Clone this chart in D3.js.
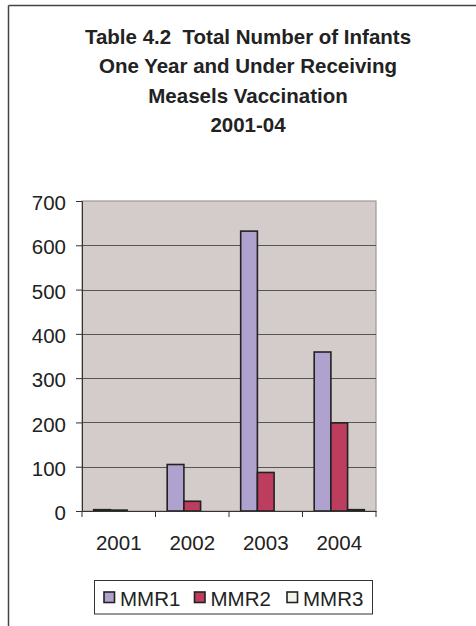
<!DOCTYPE html>
<html><head><meta charset="utf-8">
<script src="https://cdn.jsdelivr.net/npm/d3@7"></script>
<style>body{margin:0;background:#fff}svg{display:block}text{white-space:pre}</style>
</head><body>
<script>
const years = ["2001","2002","2003","2004"];
const seriesNames = ["MMR1","MMR2","MMR3"];
const mmr1 = [3,105,632,359];
const mmr2 = [2,22,87,199];
const mmr3 = [0,0,0,3];
const yTicks = [0,100,200,300,400,500,600,700];
const titleLines = ["Table 4.2  Total Number of Infants","One Year and Under Receiving","Measels Vaccination","2001-04"];
const colors = ["#B0A2CE","#BC3D5E","#F2F5E9"];

const W=476,H=626;
const svg=d3.select("body").append("svg").attr("width",W).attr("height",H);
const font="Liberation Sans, Arial, sans-serif";
const fs=20.5;

// chart border (top & left)
svg.append("line").attr("x1",8.5).attr("x2",W).attr("y1",5.5).attr("y2",5.5).attr("stroke","#444").attr("stroke-width",1.5);
svg.append("line").attr("x1",8.5).attr("x2",8.5).attr("y1",5.5).attr("y2",H).attr("stroke","#444").attr("stroke-width",1.5);

// title
svg.append("g").selectAll("text").data(titleLines).join("text")
  .attr("x",248).attr("y",(d,i)=>44+i*29.3).attr("text-anchor","middle")
  .attr("font-family",font).attr("font-weight","bold").attr("font-size",20.5).attr("fill","#222")
  .text(d=>d);

const L=82,R=376,T=201,B=511;
const x=d3.scaleBand().domain(years).range([L,R]);
const y=d3.scaleLinear().domain([0,700]).range([B,T]);
const xs=d3.scaleBand().domain(seriesNames).range([0,x.bandwidth()]).paddingInner(0).paddingOuter(0.7);

svg.append("rect").attr("x",L).attr("y",T).attr("width",R-L).attr("height",B-T).attr("fill","#D4CCCA").attr("stroke","#A09898").attr("stroke-width",1.2);

// gridlines
svg.append("g").selectAll("line").data(yTicks.filter(v=>v>0&&v<700)).join("line")
  .attr("x1",L).attr("x2",R).attr("y1",d=>Math.round(y(d))+0.5).attr("y2",d=>Math.round(y(d))+0.5)
  .attr("stroke","#555").attr("stroke-width",1);

const series=[mmr1,mmr2,mmr3];
const g=svg.append("g");
years.forEach((yr,i)=>{
  series.forEach((s,j)=>{
    g.append("rect").attr("x",x(yr)+xs(seriesNames[j])).attr("y",y(s[i]))
      .attr("width",xs.bandwidth()).attr("height",Math.max(0,B-y(s[i])))
      .attr("fill",colors[j]).attr("stroke","#222").attr("stroke-width",1.6);
  });
});

// axes
const ya=svg.append("g").attr("transform",`translate(${L},0)`)
  .call(d3.axisLeft(y).tickValues(yTicks).tickSize(6).tickPadding(10));
ya.select(".domain").attr("stroke","#333");
ya.selectAll(".tick line").attr("stroke","#333");
ya.selectAll("text").attr("font-family",font).attr("font-size",fs).attr("fill","#222").attr("dy","0.42em");

const xa=svg.append("g").attr("transform",`translate(0,${B})`)
  .call(d3.axisBottom(x).tickSize(0).tickPadding(24));
xa.select(".domain").attr("stroke","#333");
xa.selectAll("text").attr("font-family",font).attr("font-size",fs).attr("fill","#222");
xa.selectAll(".tk").data(years.concat(["end"])).join("line").attr("class","tk")
  .attr("x1",(d,i)=>i<4?x(d):R).attr("x2",(d,i)=>i<4?x(d):R).attr("y1",0).attr("y2",6).attr("stroke","#333");

// legend
const lg=svg.append("g");
lg.append("rect").attr("x",94.5).attr("y",580.5).attr("width",278).attr("height",33.5).attr("fill","#fff").attr("stroke","#333");
const lx=[104,194.5,287];
seriesNames.forEach((n,i)=>{
  lg.append("rect").attr("x",lx[i]).attr("y",592).attr("width",10.5).attr("height",10.5).attr("fill",colors[i]).attr("stroke","#222").attr("stroke-width",1.6);
  lg.append("text").attr("x",lx[i]+16).attr("y",605.5).attr("font-family",font).attr("font-size",fs).attr("fill","#222").text(n);
});
</script>
</body></html>
